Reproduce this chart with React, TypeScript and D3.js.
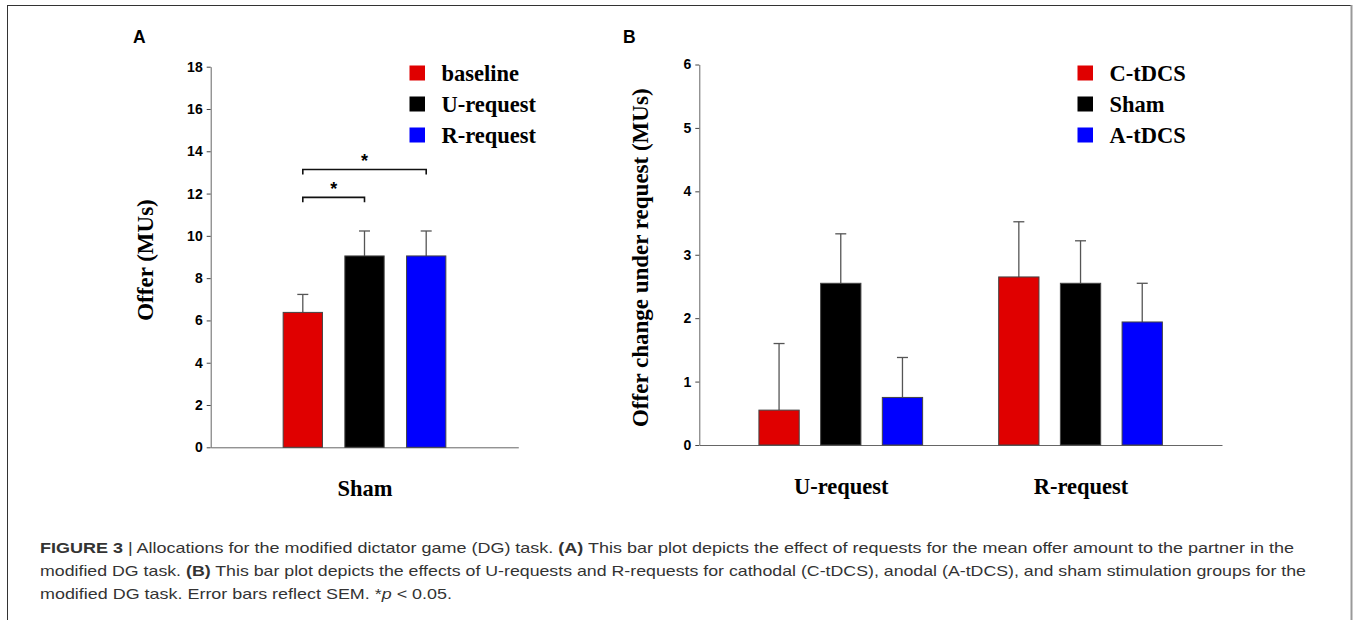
import * as d3 from "d3";
import { useEffect, useRef } from "react";

const W = 1357;
const H = 620;

// panel A: offer by request type (sham group)
const aCategories = ["Sham"];
const aSeries = ["baseline", "U-request", "R-request"];
const aMeans = [6.38, 9.05, 9.05];
const aSem = [0.85, 1.18, 1.18];
const aTicks = [0, 2, 4, 6, 8, 10, 12, 14, 16, 18];
const aSig = [
  { from: "baseline", to: "U-request", y: 11.82 },
  { from: "baseline", to: "R-request", y: 13.14 },
];

// panel B: offer change under request by stimulation group
const bCategories = ["U-request", "R-request"];
const bSeries = ["C-tDCS", "Sham", "A-tDCS"];
const bUMeans = [0.55, 2.55, 0.75];
const bUSem = [1.05, 0.78, 0.63];
const bRMeans = [2.65, 2.55, 1.94];
const bRSem = [0.87, 0.67, 0.61];
const bTicks = [0, 1, 2, 3, 4, 5, 6];

const colors = ["#e00000", "#000000", "#0000ff"];

const SERIF = "'Liberation Serif', 'Times New Roman', serif";
const SANS = "'Liberation Sans', Arial, sans-serif";

function BarPanel({ label, labelX, categories, series, means, sems, ticks, yMax,
  left, right, top, bottom, groupPad, barStep, barW, yLabel, yLabelX, legendX, sig }) {
  const yRef = useRef(null);
  const xRef = useRef(null);

  const y = d3.scaleLinear().domain([0, yMax]).range([bottom, top]);
  const x0 = d3.scalePoint().domain(categories).range([left, right]).padding(groupPad);
  const span = barStep * (series.length - 1) + barW;
  const x1 = d3.scaleBand().domain(series).range([-span / 2, span / 2])
    .paddingInner(1 - barW / barStep).paddingOuter(0);

  useEffect(() => {
    const ya = d3.select(yRef.current);
    ya.selectAll("*").remove();
    ya.call(d3.axisLeft(y).tickValues(ticks).tickFormat(d3.format("d"))
      .tickSize(4).tickSizeOuter(0).tickPadding(4));
    ya.select(".domain").attr("stroke", "#666");
    ya.selectAll(".tick line").attr("stroke", "#444");
    ya.selectAll(".tick text").attr("font-family", SANS).attr("font-weight", "bold")
      .attr("font-size", 14).attr("fill", "#000");

    const xa = d3.select(xRef.current);
    xa.selectAll("*").remove();
    xa.call(d3.axisBottom(x0).tickSize(0).tickSizeOuter(0).tickPadding(33));
    xa.select(".domain").attr("stroke", "#666");
    xa.selectAll(".tick text").attr("font-family", SERIF).attr("font-weight", "bold")
      .attr("font-size", 22.5).attr("fill", "#000");
  });

  const cx = (c, s) => x0(c) + x1(s) + x1.bandwidth() / 2;

  return (
    <g>
      <text x={labelX} y={43} fontFamily={SANS} fontWeight="bold" fontSize={17.5}>{label}</text>
      <g ref={xRef} transform={`translate(0,${bottom})`} />
      {categories.map((c, ci) => series.map((s, si) => {
        const v = means[ci][si];
        const e = sems[ci][si];
        const xc = cx(c, s);
        return (
          <g key={c + s}>
            <line x1={xc} x2={xc} y1={y(v)} y2={y(v + e)} stroke="#555" strokeWidth={1.3} />
            <line x1={xc - 5.5} x2={xc + 5.5} y1={y(v + e)} y2={y(v + e)} stroke="#555" strokeWidth={1.3} />
            <rect x={x0(c) + x1(s)} y={y(v)} width={x1.bandwidth()} height={y(0) - y(v)}
              fill={colors[si]} stroke="#444" strokeWidth={1} />
          </g>
        );
      }))}
      <g ref={yRef} transform={`translate(${left},0)`} />
      <text transform={`translate(${yLabelX},${(top + bottom) / 2 + 3}) rotate(-90)`}
        textAnchor="middle" fontFamily={SERIF} fontWeight="bold" fontSize={23}>{yLabel}</text>
      {sig && sig.map((b) => {
        const xa = cx(categories[0], b.from);
        const xb = cx(categories[0], b.to);
        const yy = y(b.y);
        return (
          <g key={b.to}>
            <path d={`M${xa},${yy + 5}V${yy}H${xb}V${yy + 5}`} fill="none" stroke="#111" strokeWidth={1.6} />
            <text x={(xa + xb) / 2} y={yy - 2} textAnchor="middle" fontFamily={SANS}
              fontWeight="bold" fontSize={18}>*</text>
          </g>
        );
      })}
      {series.map((s, i) => (
        <g key={s} transform={`translate(${legendX},${73 + i * 31})`}>
          <rect x={0} y={-7.5} width={15.5} height={15} fill={colors[i]} />
          <text x={32} y={7.5} fontFamily={SERIF} fontWeight="bold" fontSize={22.5}>{s}</text>
        </g>
      ))}
    </g>
  );
}

export default function App() {
  return (
    <svg width={W} height={H} style={{ position: "absolute", left: 0, top: 0, background: "#fff" }}>
      <rect x={7.5} y={5.5} width={1344} height={H + 20} fill="none" stroke="#333" strokeWidth={1} />
      <line x1={1351.5} x2={1351.5} y1={5} y2={H} stroke="#999" strokeWidth={2} />

      <BarPanel label="A" labelX={133} categories={aCategories} series={aSeries}
        means={[aMeans]} sems={[aSem]} ticks={aTicks} yMax={18}
        left={210.7} right={518.3} top={66.7} bottom={447.3} groupPad={0.5}
        barStep={61.7} barW={39.3} yLabel="Offer (MUs)" yLabelX={153} legendX={409.5} sig={aSig} />

      <BarPanel label="B" labelX={623} categories={bCategories} series={bSeries}
        means={[bUMeans, bRMeans]} sems={[bUSem, bRSem]} ticks={bTicks} yMax={6}
        left={699.3} right={1222} top={64.5} bottom={445} groupPad={0.59}
        barStep={61.7} barW={40.3} yLabel="Offer change under request (MUs)" yLabelX={648}
        legendX={1077.5} sig={null} />

      <g fontFamily={SANS} fontSize={15} fill="#333">
        <text x={40} y={553} textLength={1254} lengthAdjust="spacingAndGlyphs">
          <tspan fontWeight="bold">FIGURE 3</tspan> | Allocations for the modified dictator game (DG) task. <tspan fontWeight="bold">(A)</tspan> This bar plot depicts the effect of requests for the mean offer amount to the partner in the
        </text>
        <text x={40} y={576} textLength={1266} lengthAdjust="spacingAndGlyphs">
          modified DG task. <tspan fontWeight="bold">(B)</tspan> This bar plot depicts the effects of U-requests and R-requests for cathodal (C-tDCS), anodal (A-tDCS), and sham stimulation groups for the
        </text>
        <text x={40} y={599} textLength={412} lengthAdjust="spacingAndGlyphs">
          modified DG task. Error bars reflect SEM. *<tspan fontStyle="italic">p</tspan> &lt; 0.05.
        </text>
      </g>
    </svg>
  );
}
